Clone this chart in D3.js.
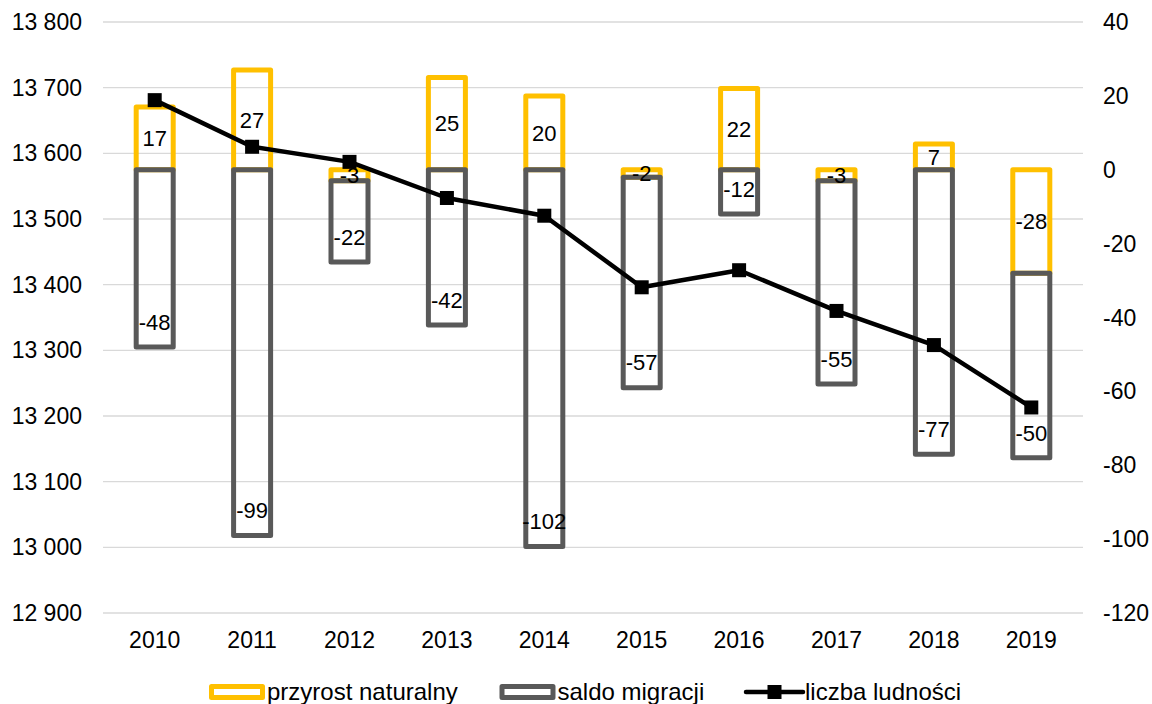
<!DOCTYPE html>
<html>
<head>
<meta charset="utf-8">
<script src="https://cdn.jsdelivr.net/npm/d3@7"></script>
<style>
  body { margin: 0; background: #fff; }
  text { font-family: "Liberation Sans", Arial, sans-serif; fill: #000; }
</style>
</head>
<body>
<script>
const years = ["2010", "2011", "2012", "2013", "2014", "2015", "2016", "2017", "2018", "2019"];
const przyrost = [17, 27, -3, 25, 20, -2, 22, -3, 7, -28];
const saldo = [-48, -99, -22, -42, -102, -57, -12, -55, -77, -50];
const ludnosc = [13681, 13610, 13587, 13532, 13505, 13396, 13422, 13360, 13308, 13213];
const leftTicks = [12900, 13000, 13100, 13200, 13300, 13400, 13500, 13600, 13700, 13800];
const rightTicks = [-120, -100, -80, -60, -40, -20, 0, 20, 40];

const width = 1152, height = 704;
const yellow = "#FFC000", gray = "#595959";
const fs = 23;

const svg = d3.select("body").append("svg")
  .attr("width", width)
  .attr("height", height);

const x = d3.scaleBand()
  .domain(years)
  .range([106, 1080])
  .paddingInner(0.62)
  .paddingOuter(0.31);

const yL = d3.scaleLinear().domain([12900, 13800]).range([613, 22]);
const yR = d3.scaleLinear().domain([-120, 40]).range([613, 22]);

const pl = d3.formatLocale({ decimal: ",", thousands: " ", grouping: [3], currency: ["", " zł"], minus: "-" });
const fmtL = pl.format(",d");
const fmtR = pl.format("d");

// grid
svg.append("g").selectAll("line").data(leftTicks)
  .join("line")
  .attr("x1", 103).attr("x2", 1083)
  .attr("y1", d => yL(d)).attr("y2", d => yL(d))
  .attr("stroke", "#d9d9d9").attr("stroke-width", 1.3);

// left axis labels
svg.append("g").selectAll("text").data(leftTicks)
  .join("text")
  .attr("x", 82).attr("y", d => yL(d))
  .attr("dy", "0.35em")
  .attr("text-anchor", "end")
  .attr("font-size", fs)
  .text(d => fmtL(d));

// right axis labels
svg.append("g").selectAll("text").data(rightTicks)
  .join("text")
  .attr("x", 1103).attr("y", d => yR(d))
  .attr("dy", "0.35em")
  .attr("font-size", fs)
  .text(d => fmtR(d));

// x labels
svg.append("g").selectAll("text").data(years)
  .join("text")
  .attr("x", d => x(d) + x.bandwidth() / 2).attr("y", 640)
  .attr("dy", "0.35em")
  .attr("text-anchor", "middle")
  .attr("font-size", fs)
  .text(d => d);

// stacked segments: positives above 0, negatives below
const segs = years.map((yr, i) => {
  let pos = 0, neg = 0;
  const out = [];
  [[przyrost[i], "p"], [saldo[i], "s"]].forEach(([v, k]) => {
    let a, b;
    if (v >= 0) { a = pos; b = pos + v; pos = b; }
    else { a = neg; b = neg + v; neg = b; }
    out.push({ yr, v, k, a, b });
  });
  return out;
});

const pSegs = segs.map(s => s[0]);
const sSegs = segs.map(s => s[1]);

function drawBars(data, color) {
  svg.append("g").selectAll("rect").data(data)
    .join("rect")
    .attr("x", d => x(d.yr))
    .attr("width", x.bandwidth())
    .attr("y", d => Math.min(yR(d.a), yR(d.b)))
    .attr("height", d => Math.abs(yR(d.a) - yR(d.b)))
    .attr("fill", "none")
    .attr("stroke", color)
    .attr("stroke-width", 5)
    .attr("stroke-linejoin", "round");
}
drawBars(pSegs, yellow);
drawBars(sSegs, gray);

// line
const line = d3.line()
  .x((d, i) => x(years[i]) + x.bandwidth() / 2)
  .y(d => yL(d));

svg.append("path")
  .datum(ludnosc)
  .attr("d", line)
  .attr("fill", "none")
  .attr("stroke", "#000")
  .attr("stroke-width", 4.5)
  .attr("stroke-linejoin", "round");

svg.append("g").selectAll("rect").data(ludnosc)
  .join("rect")
  .attr("x", (d, i) => x(years[i]) + x.bandwidth() / 2 - 7)
  .attr("y", d => yL(d) - 7)
  .attr("width", 14).attr("height", 14)
  .attr("fill", "#000");

// labels: przyrost centered, saldo inside end
svg.append("g").selectAll("text").data(pSegs)
  .join("text")
  .attr("x", d => x(d.yr) + x.bandwidth() / 2)
  .attr("y", d => (yR(d.a) + yR(d.b)) / 2)
  .attr("dy", "0.35em")
  .attr("text-anchor", "middle")
  .attr("font-size", 22)
  .text(d => d.v);

svg.append("g").selectAll("text").data(sSegs)
  .join("text")
  .attr("x", d => x(d.yr) + x.bandwidth() / 2)
  .attr("y", d => yR(d.b) - 25)
  .attr("dy", "0.35em")
  .attr("text-anchor", "middle")
  .attr("font-size", 22)
  .text(d => d.v);

// legend
const lg = svg.append("g");
const items = [
  { name: "przyrost naturalny", type: "bar", color: yellow, x: 211.5 },
  { name: "saldo migracji", type: "bar", color: gray, x: 502 },
  { name: "liczba ludności", type: "line", color: "#000", x: 746 }
];
items.forEach(it => {
  if (it.type === "bar") {
    lg.append("rect")
      .attr("x", it.x).attr("y", 686.5)
      .attr("width", 51).attr("height", 11)
      .attr("fill", "none").attr("stroke", it.color)
      .attr("stroke-width", 5).attr("stroke-linejoin", "round");
  } else {
    lg.append("line")
      .attr("x1", it.x).attr("x2", it.x + 57)
      .attr("y1", 692).attr("y2", 692)
      .attr("stroke", "#000").attr("stroke-width", 4.5)
      .attr("stroke-linecap", "round");
    lg.append("rect")
      .attr("x", it.x + 28.5 - 7).attr("y", 685)
      .attr("width", 14).attr("height", 14)
      .attr("fill", "#000");
  }
  lg.append("text")
    .attr("x", it.type === "bar" ? it.x + 55.5 : it.x + 59)
    .attr("y", 692)
    .attr("dy", "0.35em")
    .attr("font-size", 24)
    .text(it.name);
});
</script>
</body>
</html>
